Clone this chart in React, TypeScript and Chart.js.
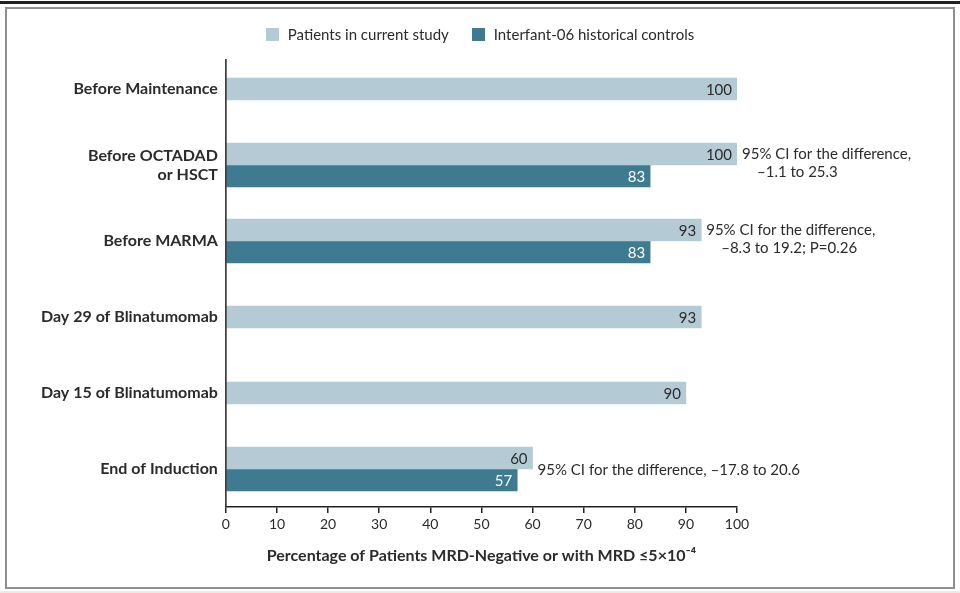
import React, { useEffect, useRef } from "react";
import { Chart, registerables } from "chart.js";

Chart.register(...registerables);

const categories: (string | string[])[] = [
  "Before Maintenance",
  ["Before OCTADAD", "or HSCT"],
  "Before MARMA",
  "Day 29 of Blinatumomab",
  "Day 15 of Blinatumomab",
  "End of Induction",
];
const currentStudy: (number | null)[] = [100, 100, 93, 93, 90, 60];
const historicalControls: (number | null)[] = [null, 83, 83, null, null, 57];
const ciNotes: (string[] | null)[] = [
  null,
  ["95% CI for the difference,", "\u20131.1 to 25.3"],
  ["95% CI for the difference,", "\u20138.3 to 19.2; P=0.26"],
  null,
  null,
  ["95% CI for the difference, \u201317.8 to 20.6"],
];
const xTicks: number[] = [0, 10, 20, 30, 40, 50, 60, 70, 80, 90, 100];
const seriesNames: string[] = ["Patients in current study", "Interfant-06 historical controls"];

const FONT = "Lato, 'Open Sans', sans-serif";
const LIGHT = "#b4cbd6";
const DARK = "#3e7b90";
const TEXT = "#2b2b2b";

const labelPlugin = {
  id: "labelsAndNotes",
  afterDatasetsDraw(chart: any) {
    const ctx = chart.ctx;
    const area = chart.chartArea;
    ctx.save();
    ctx.strokeStyle = "#222";
    ctx.lineWidth = 1.5;
    ctx.beginPath();
    ctx.moveTo(area.left, area.top + 8);
    ctx.lineTo(area.left, area.bottom);
    ctx.stroke();

    ctx.font = `15px ${FONT}`;
    ctx.textBaseline = "middle";
    chart.data.datasets.forEach((ds: any, di: number) => {
      const meta = chart.getDatasetMeta(di);
      meta.data.forEach((el: any, i: number) => {
        const v = ds.data[i];
        if (v === null || v === undefined) return;
        ctx.textAlign = "right";
        ctx.fillStyle = di === 0 ? TEXT : "#ffffff";
        ctx.fillText(String(v), el.x - 5, el.y + 1);
      });
    });

    const meta0 = chart.getDatasetMeta(0);
    const yScale = chart.scales.y;
    ciNotes.forEach((lines, i) => {
      if (!lines) return;
      const el = meta0.data[i];
      const cy = yScale.getPixelForValue(i);
      const x = el.x + 5;
      ctx.textAlign = "left";
      ctx.fillStyle = TEXT;
      if (lines.length === 1) {
        ctx.fillText(lines[0], x, cy + 1);
      } else {
        lines.forEach((ln, k) => {
          ctx.fillText(ln, x + (k > 0 ? 15 : 0), cy - 11 + k * 18);
        });
      }
    });
    ctx.restore();
  },
};

export default function App() {
  const ref = useRef<HTMLCanvasElement | null>(null);
  useEffect(() => {
    if (!ref.current) return;
    const chart = new Chart(ref.current, {
      type: "bar",
      data: {
        labels: categories,
        datasets: [
          {
            label: seriesNames[0],
            data: currentStudy,
            backgroundColor: LIGHT,
            barThickness: 22,
            skipNull: true,
          } as any,
          {
            label: seriesNames[1],
            data: historicalControls,
            backgroundColor: DARK,
            barThickness: 22,
            skipNull: true,
          } as any,
        ],
      },
      options: {
        indexAxis: "y",
        responsive: false,
        animation: false,
        layout: { padding: { left: 33, right: 223, top: 51, bottom: 28 } },
        plugins: {
          legend: { display: false },
          tooltip: { enabled: false },
        },
        scales: {
          x: {
            type: "linear",
            min: 0,
            max: 100,
            afterBuildTicks: (axis: any) => {
              axis.ticks = xTicks.map((v) => ({ value: v }));
            },
            border: { display: true, color: "#222", width: 1.5 },
            grid: {
              drawOnChartArea: false,
              drawTicks: true,
              tickLength: 6,
              color: "#222",
              lineWidth: 1.5,
            },
            ticks: {
              color: TEXT,
              padding: 3,
              font: { family: FONT, size: 14 },
            },
            title: {
              display: true,
              text: "Percentage of Patients MRD-Negative or with MRD \u22645\u00d710\u207b\u2074",
              color: TEXT,
              font: { family: FONT, size: 16, weight: "bold" },
              padding: { top: 10, bottom: 0 },
            },
          },
          y: {
            type: "category",
            offset: true,
            border: { display: false },
            grid: { display: false, drawTicks: false },
            ticks: {
              color: TEXT,
              padding: 8,
              font: { family: FONT, size: 16, weight: "bold" },
            },
          },
        },
      },
      plugins: [labelPlugin],
    });
    return () => chart.destroy();
  }, []);

  const legendItem = (name: string, color: string) => (
    <div style={{ display: "flex", alignItems: "center", marginRight: 23 }}>
      <div style={{ width: 13, height: 13, background: color, marginRight: 9 }} />
      <span style={{ fontFamily: FONT, fontSize: 15, color: TEXT, lineHeight: "18px" }}>{name}</span>
    </div>
  );

  return (
    <div style={{ position: "fixed", left: 0, top: 0, width: 960, height: 593, background: "#efe9e1", overflow: "hidden" }}>
      <div style={{ position: "absolute", left: 0, top: 0, width: 960, height: 591, background: "#ffffff" }} />
      <div style={{ position: "absolute", left: 0, top: 1, width: 960, height: 3, background: "#222" }} />
      <div
        style={{
          position: "absolute",
          left: 5,
          top: 7,
          width: 950,
          height: 582,
          border: "2px solid #8e8e8e",
          boxSizing: "border-box",
        }}
      />
      <canvas ref={ref} width={960} height={593} style={{ position: "absolute", left: 0, top: 0 }} />
      <div
        style={{
          position: "absolute",
          left: 23,
          top: 25,
          width: 937,
          display: "flex",
          justifyContent: "center",
        }}
      >
        {legendItem(seriesNames[0], LIGHT)}
        {legendItem(seriesNames[1], DARK)}
      </div>
    </div>
  );
}
